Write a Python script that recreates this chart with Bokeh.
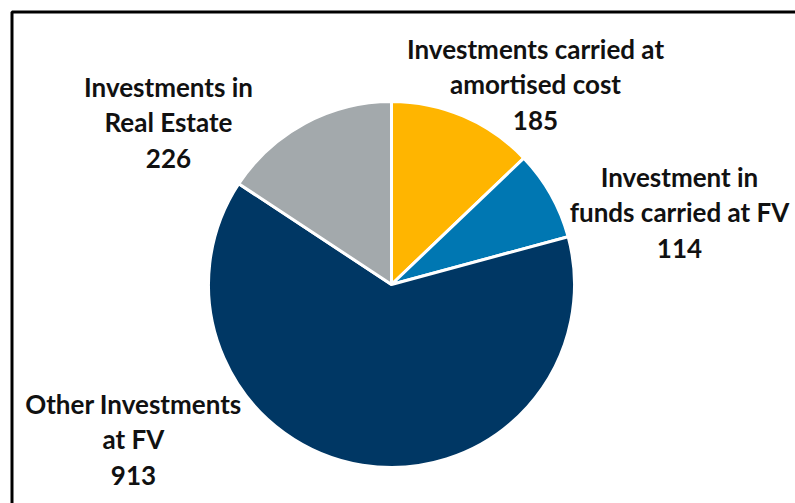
import math
from bokeh.plotting import figure
from bokeh.models import Range1d, ColumnDataSource
from bokeh.core.properties import value
from bokeh.embed import file_html
from bokeh.resources import INLINE

# ---- data ----
categories = ["Investments carried at\namortised cost",
              "Investment in\nfunds carried at FV",
              "Other Investments\nat FV",
              "Investments in\nReal Estate"]
values = [185, 114, 913, 226]
colors = ["#FFB500", "#0077B2", "#003764", "#A3A9AC"]

# ---- layout constants (page pixels -> plot units, 1:1) ----
W, H = 795, 503
def px(x_img):
    return x_img
def py(y_img):
    return H - y_img

cx, cy, R = px(391), py(284), 183
label_pos = [(535, 84), (679, 212), (133, 439), (168, 122)]

total = float(sum(values))
starts, ends = [], []
acc = 0.0
for v in values:
    starts.append(math.pi / 2 - acc / total * 2 * math.pi)
    acc += v
    ends.append(math.pi / 2 - acc / total * 2 * math.pi)

src = ColumnDataSource(dict(start=starts, end=ends, color=colors,
                            x=[cx] * len(values), y=[cy] * len(values)))

p = figure(width=W, height=H, output_backend="svg", toolbar_location=None,
           x_range=Range1d(0, W), y_range=Range1d(0, H), min_border=0,
           background_fill_color="white", border_fill_color="white")
p.axis.visible = False
p.grid.visible = False
p.outline_line_color = None

p.wedge(x="x", y="y", radius=R, start_angle="start", end_angle="end",
        direction="clock", fill_color="color", line_color="white",
        line_width=3, source=src)

# frame (continues past right & bottom edges)
p.line(x=[px(11.5), px(11.5), W + 20], y=[-20, py(11.5), py(11.5)],
       line_color="black", line_width=3)

labels = [f"{c}\n{v}" for c, v in zip(categories, values)]
lsrc = ColumnDataSource(dict(x=[px(a) for a, b in label_pos],
                             y=[py(b) for a, b in label_pos],
                             text=labels))
p.text(x="x", y="y", text="text", source=lsrc, text_align="center",
       text_baseline="middle", text_font=value("Lato"),
       text_font_style="bold", text_font_size="26px",
       text_line_height=1.12, text_color="#111111")

open("out.html", "w").write(file_html(p, INLINE))
